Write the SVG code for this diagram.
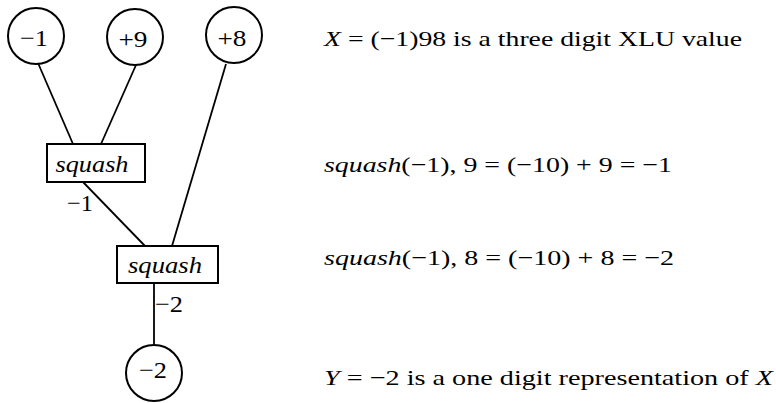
<svg xmlns="http://www.w3.org/2000/svg" width="776" height="403" viewBox="0 0 776 403">
<defs>
<circle id="nodeShape" r="28" fill="none" stroke="#000" stroke-width="2"/>
</defs>
<rect width="776" height="403" fill="#fff"/>
<g id="connectors" stroke="#000" stroke-width="1.8" fill="none">
<line x1="38" y1="63" x2="73" y2="144"/>
<line x1="136" y1="65" x2="101" y2="144"/>
<line x1="226" y1="64" x2="172" y2="246"/>
<line x1="83" y1="182" x2="145" y2="246"/>
<line x1="154" y1="283" x2="154" y2="344"/>
</g>
<g id="edge-labels" font-family="Liberation Serif" font-size="24" fill="#000">
<text x="67" y="211" textLength="26" lengthAdjust="spacingAndGlyphs">−1</text>
<text x="155" y="312" textLength="28" lengthAdjust="spacingAndGlyphs">−2</text>
</g>
<g font-family="Liberation Serif" font-size="24" fill="#000" text-anchor="middle">
<g id="in1"><use href="#nodeShape" x="36" y="36"/><text x="34" y="46" textLength="28" lengthAdjust="spacingAndGlyphs">−1</text></g>
<g id="in2"><use href="#nodeShape" x="135" y="37"/><text x="133" y="47" textLength="29" lengthAdjust="spacingAndGlyphs">+9</text></g>
<g id="in3"><use href="#nodeShape" x="234" y="35"/><text x="232" y="46" textLength="29" lengthAdjust="spacingAndGlyphs">+8</text></g>
<g id="sq1"><rect x="47" y="144" width="98" height="38" fill="none" stroke="#000" stroke-width="2"/><text x="92" y="172" font-size="23" font-style="italic" textLength="73" lengthAdjust="spacingAndGlyphs">squash</text></g>
<g id="sq2"><rect x="117" y="246" width="101" height="37" fill="none" stroke="#000" stroke-width="2"/><text x="165" y="273" font-size="23" font-style="italic" textLength="74" lengthAdjust="spacingAndGlyphs">squash</text></g>
<g id="out"><use href="#nodeShape" x="154" y="373"/><text x="153" y="378" textLength="28" lengthAdjust="spacingAndGlyphs">−2</text></g>
</g>
<g id="notes" font-family="Liberation Serif" font-size="22" fill="#000">
<text x="324" y="46" textLength="418" lengthAdjust="spacingAndGlyphs"><tspan font-style="italic">X</tspan> = (−1)98 is a three digit XLU value</text>
<text x="324" y="172" textLength="348" lengthAdjust="spacingAndGlyphs"><tspan font-style="italic">squash</tspan>(−1), 9 = (−10) + 9 = −1</text>
<text x="324" y="265" textLength="350" lengthAdjust="spacingAndGlyphs"><tspan font-style="italic">squash</tspan>(−1), 8 = (−10) + 8 = −2</text>
<text x="324" y="385" textLength="449" lengthAdjust="spacingAndGlyphs"><tspan font-style="italic">Y</tspan> = −2 is a one digit representation of <tspan font-style="italic">X</tspan></text>
</g>
</svg>
